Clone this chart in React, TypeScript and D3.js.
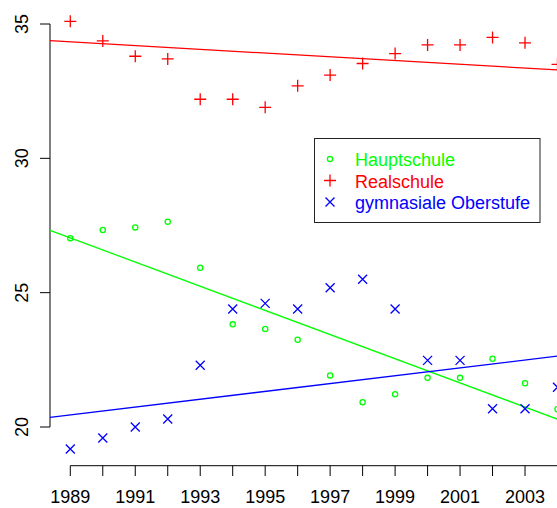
import * as d3 from "d3";

const years = d3.range(1989, 2005);
const hauptschule = [27.03, 27.33, 27.43, 27.64, 25.93, 23.82, 23.65, 23.25, 21.92, 20.92, 21.22, 21.83, 21.83, 22.54, 21.63, 20.66];
const realschule = [35.1, 34.37, 33.8, 33.7, 32.2, 32.2, 31.9, 32.7, 33.1, 33.53, 33.9, 34.22, 34.22, 34.5, 34.3, 33.5];
const gymnasium = [19.18, 19.59, 20.0, 20.3, 22.3, 24.39, 24.6, 24.39, 25.18, 25.5, 24.39, 22.48, 22.48, 20.68, 20.68, 21.48];

// trend lines: value at 1989 and at 2004
const trendHaupt = [27.04, 20.29];
const trendReal = [34.336, 33.29];
const trendGym = [20.45, 22.64];

const yTicks = [20, 25, 30, 35];
const xTicks = d3.range(1989, 2005);
const xLabels = d3.range(1989, 2005, 2);

const W = 557;
const H = 508;
const font = "'Liberation Sans', Arial, sans-serif";

const x = d3.scaleLinear().domain([1989, 2004]).range([70.3, 557.5]);
const y = d3.scaleLinear().domain([20, 35]).range([427, 24]);
const left = 50;

const series = [
  { name: "Hauptschule", values: hauptschule, trend: trendHaupt, color: "#00ff00", pch: "o" },
  { name: "Realschule", values: realschule, trend: trendReal, color: "#ff0000", pch: "+" },
  { name: "gymnasiale Oberstufe", values: gymnasium, trend: trendGym, color: "#0000ff", pch: "x" },
];

function Symbol({ cx, cy, pch, color }: { cx: number; cy: number; pch: string; color: string }) {
  if (pch === "o") return <circle cx={cx} cy={cy} r={2.6} fill="none" stroke={color} strokeWidth={1.3} />;
  if (pch === "+") {
    const s = 6;
    return (
      <path d={`M${cx - s},${cy}H${cx + s}M${cx},${cy - s}V${cy + s}`} stroke={color} strokeWidth={1.3} />
    );
  }
  const s = 4.5;
  return (
    <path d={`M${cx - s},${cy - s}L${cx + s},${cy + s}M${cx - s},${cy + s}L${cx + s},${cy - s}`} stroke={color} strokeWidth={1.3} />
  );
}

export default function App() {
  const lineFor = (t: number[]) => {
    const slope = (t[1] - t[0]) / 15;
    const x0 = x.invert(left);
    const x1 = x.invert(W + 2);
    return [
      [x0, t[0] + slope * (x0 - 1989)],
      [x1, t[0] + slope * (x1 - 1989)],
    ];
  };
  const line = d3.line<number[]>().x((d) => x(d[0])).y((d) => y(d[1]));

  return (
    <svg width={W} height={H} style={{ position: "absolute", left: 0, top: 0, background: "#fff" }} fontFamily={font}>
      <rect width={W} height={H} fill="#fff" />
      {/* y axis */}
      <line x1={left} x2={left} y1={y(35)} y2={y(20)} stroke="#000" />
      {yTicks.map((t) => (
        <g key={t}>
          <line x1={left - 10} x2={left} y1={y(t)} y2={y(t)} stroke="#000" />
          <text
            transform={`translate(28,${y(t)}) rotate(-90)`}
            textAnchor="middle"
            fontSize={18}
            fill="#000"
          >
            {t}
          </text>
        </g>
      ))}
      {/* x axis */}
      <line x1={x(1989)} x2={W + 2} y1={465.7} y2={465.7} stroke="#000" />
      {xTicks.map((t) => (
        <line key={t} x1={x(t)} x2={x(t)} y1={465.7} y2={476} stroke="#000" />
      ))}
      {xLabels.map((t) => (
        <text key={t} x={x(t)} y={503} textAnchor="middle" fontSize={18} fill="#000">
          {t}
        </text>
      ))}
      {/* trend lines */}
      {series.map((s) => (
        <path key={s.name} d={line(lineFor(s.trend)) || ""} fill="none" stroke={s.color} strokeWidth={1.3} />
      ))}
      {/* points */}
      {series.map((s) =>
        s.values.map((v, i) => (
          <Symbol key={s.name + i} cx={x(years[i])} cy={y(v)} pch={s.pch} color={s.color} />
        ))
      )}
      {/* legend */}
      <rect x={314.5} y={138.5} width={225.5} height={84} fill="#fff" stroke="#222" />
      {series.map((s, i) => (
        <g key={s.name}>
          <Symbol cx={330} cy={159 + i * 21.5} pch={s.pch} color={s.color} />
          <text x={355} y={166 + i * 21.5} fontSize={18} fill={s.color}>
            {s.name}
          </text>
        </g>
      ))}
    </svg>
  );
}
